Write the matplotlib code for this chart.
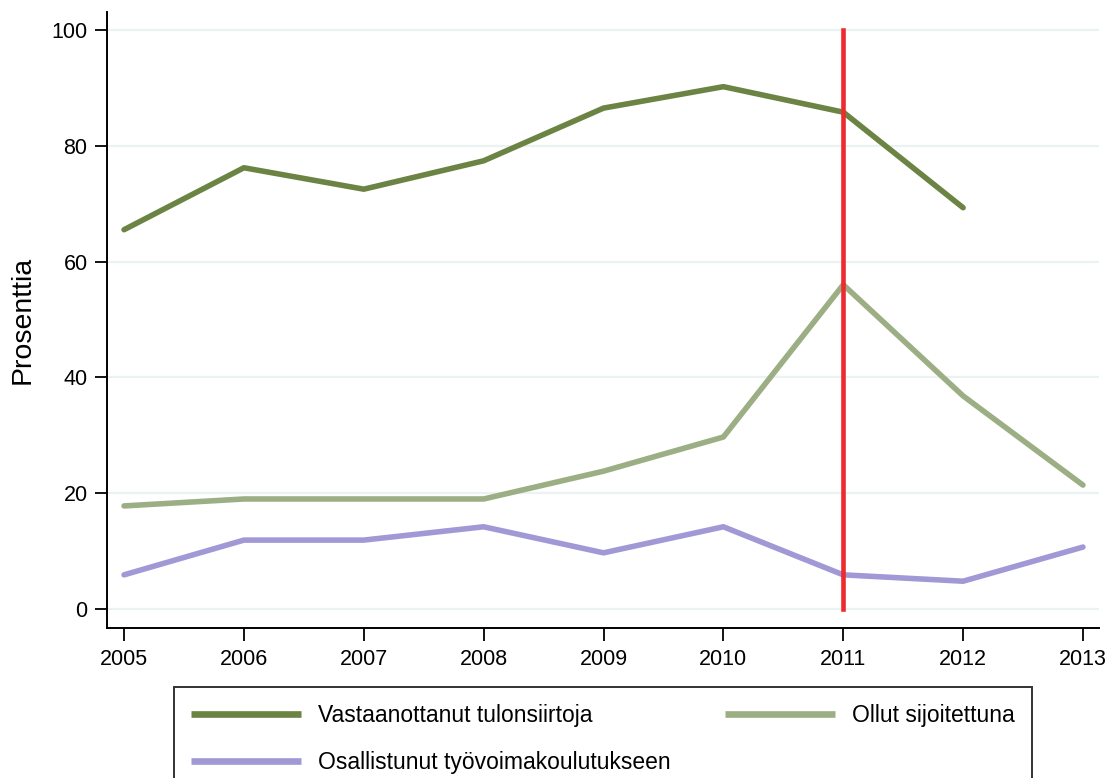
import matplotlib.pyplot as plt

plt.rcParams['font.family'] = ['Liberation Sans', 'DejaVu Sans']

years = [2005, 2006, 2007, 2008, 2009, 2010, 2011, 2012, 2013]
tulonsiirrot = [65.5, 76.2, 72.5, 77.4, 86.5, 90.2, 85.8, 69.3, None]
sijoitettuna = [17.8, 19.0, 19.0, 19.0, 23.8, 29.7, 56.0, 36.8, 21.4]
koulutus = [5.9, 11.9, 11.9, 14.2, 9.7, 14.2, 5.9, 4.8, 10.7]
labels = ['Vastaanottanut tulonsiirtoja', 'Ollut sijoitettuna',
          'Osallistunut työvoimakoulutukseen']
cut_year = 2011
y_ticks = [0, 20, 40, 60, 80, 100]

fig = plt.figure(figsize=(11.16, 7.78), dpi=100)
ax = fig.add_axes([0.0959, 0.1928, 0.8889, 0.7918])

t_years = [y for y, v in zip(years, tulonsiirrot) if v is not None]
t_vals = [v for v in tulonsiirrot if v is not None]
l1, = ax.plot(t_years, t_vals, color='#6b8443', lw=4.0, solid_capstyle='round', zorder=3)
l2, = ax.plot(years, sijoitettuna, color='#9cae84', lw=4.0, solid_capstyle='round', zorder=3)
l3, = ax.plot(years, koulutus, color='#a099d6', lw=4.0, solid_capstyle='round', zorder=3)
ax.plot([cut_year, cut_year], [0, 100], color='#ee2a2f', lw=3.3, zorder=4)

ax.set_xlim(2004.858, 2013.134)
ax.set_ylim(-3.28, 103.1)
ax.set_xticks(years)
ax.set_yticks(y_ticks)
ax.tick_params(axis='both', labelsize=15.5, length=9, width=1.3, color='black')
ax.tick_params(axis='y', pad=5)
ax.tick_params(axis='x', pad=6)
ax.grid(axis='y', color='#eaf2f3', lw=1.6, zorder=0)
ax.set_axisbelow(True)
for s in ['top', 'right']:
    ax.spines[s].set_visible(False)
for s in ['left', 'bottom']:
    ax.spines[s].set_linewidth(1.4)

ax.set_ylabel('Prosenttia', fontsize=20.5)
ax.yaxis.set_label_coords(-0.072, 0.5)

leg = fig.legend([l1, l3, l2], [labels[0], labels[2], labels[1]], ncol=2,
                 loc='upper left', bbox_to_anchor=(0.156, -0.05, 0.769, 0.167),
                 mode='expand', fontsize=16.5, frameon=True, fancybox=False,
                 edgecolor='black', handlelength=4.8, handletextpad=0.75,
                 labelspacing=1.05, borderpad=0.75, borderaxespad=0)
leg.get_frame().set_linewidth(1.4)
for h in leg.get_lines():
    h.set_linewidth(4.8)
    h.set_solid_capstyle('butt')

fig.savefig('out.png', dpi=100)
